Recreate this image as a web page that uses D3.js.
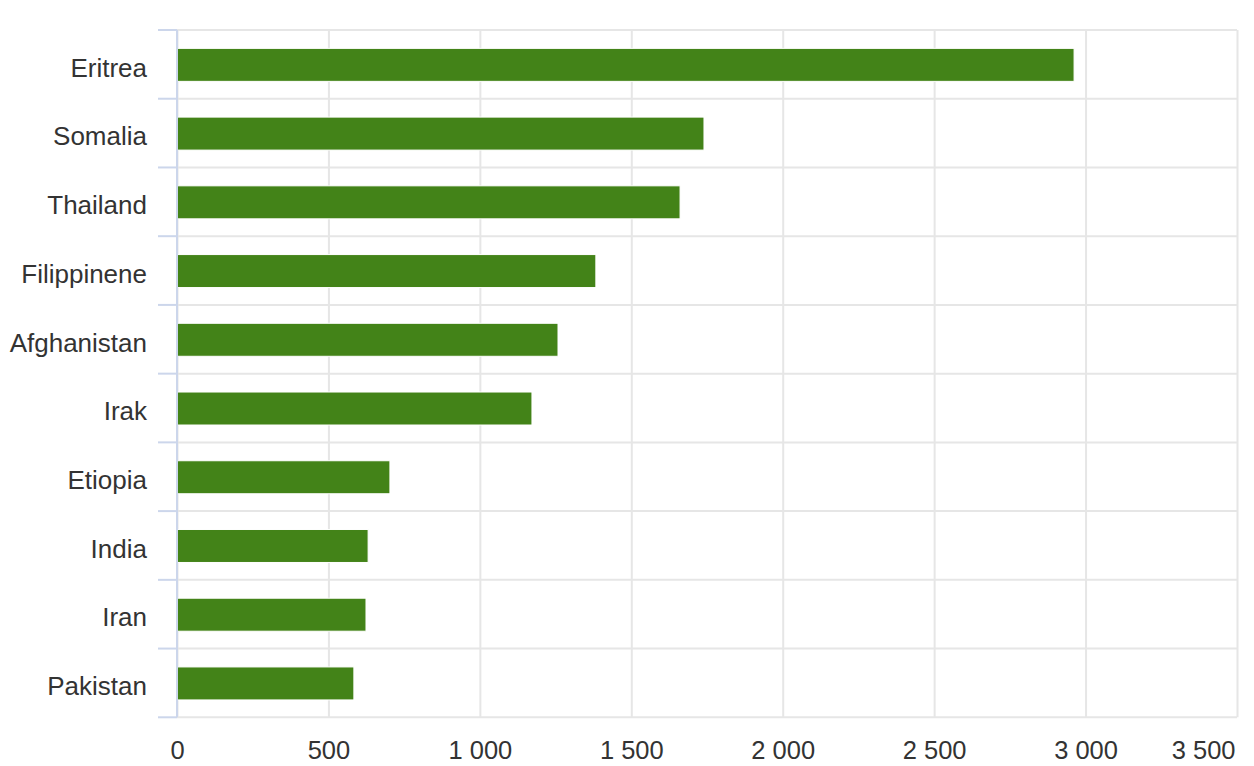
<!DOCTYPE html>
<html>
<head>
<meta charset="utf-8">
<script src="https://cdn.jsdelivr.net/npm/d3@7"></script>
<style>
  html, body { margin: 0; padding: 0; background: #fff; }
  svg { display: block; font-family: "Liberation Sans", Arial, Helvetica, sans-serif; }
</style>
</head>
<body>
<div id="chart"></div>
<script>
// data
const countries = ["Eritrea", "Somalia", "Thailand", "Filippinene", "Afghanistan",
                   "Irak", "Etiopia", "India", "Iran", "Pakistan"];
const persons = [2962, 1740, 1661, 1383, 1258, 1172, 703, 631, 624, 584];
const xTicks = [0, 500, 1000, 1500, 2000, 2500, 3000, 3500];

const width = 1254, height = 766;
const margin = { top: 30, right: 17, bottom: 48.7, left: 177 };
const plotW = width - margin.left - margin.right;
const plotH = height - margin.top - margin.bottom;

const nb = d3.formatLocale({ decimal: ",", thousands: " ", grouping: [3], currency: ["", ""] });
const fmt = nb.format(",");

const svg = d3.select("#chart")
  .append("svg")
  .attr("width", width)
  .attr("height", height);

const g = svg.append("g")
  .attr("transform", `translate(${margin.left},${margin.top})`);

const x = d3.scaleLinear().domain([0, 3500]).range([0, plotW]);
const y = d3.scaleBand().domain(countries).range([0, plotH]).padding(0);

// vertical grid + x labels
const gx = g.append("g")
  .attr("transform", `translate(0,${plotH})`)
  .call(d3.axisBottom(x).tickValues(xTicks).tickSize(-plotH).tickFormat(fmt));
gx.select(".domain").remove();
gx.selectAll("line").attr("stroke", "#e6e6e6").attr("stroke-width", 2);
gx.selectAll("text")
  .attr("y", 42).attr("dy", 0)
  .attr("fill", "#333333")
  .style("font-size", "25.5px");
// last label is pushed inside the chart, like the original
gx.selectAll("text")
  .filter(d => d === xTicks[xTicks.length - 1])
  .attr("text-anchor", "end")
  .attr("x", -2);

// horizontal grid at band edges, with the tick stubs left of the axis
const edges = countries.map(c => y(c)).concat([y.range()[1]]);
const gy = g.append("g");
gy.selectAll("line.grid")
  .data(edges)
  .enter()
  .append("line")
  .attr("class", "grid")
  .attr("x1", 0).attr("x2", plotW)
  .attr("y1", d => d).attr("y2", d => d)
  .attr("stroke", "#e6e6e6").attr("stroke-width", 2);
gy.selectAll("line.tick")
  .data(edges)
  .enter()
  .append("line")
  .attr("class", "tick")
  .attr("x1", -19).attr("x2", 0)
  .attr("y1", d => d).attr("y2", d => d)
  .attr("stroke", "#ccd6eb").attr("stroke-width", 2);

// bars
const barH = y.bandwidth() * 0.48;
g.append("g")
  .selectAll("rect")
  .data(countries)
  .enter()
  .append("rect")
  .attr("x", x(0))
  .attr("y", (d) => y(d) + (y.bandwidth() - barH) / 2 + 0.5)
  .attr("width", (d, i) => x(persons[i]) - x(0))
  .attr("height", barH)
  .attr("fill", "#438318")
  .attr("stroke", "#ffffff")
  .attr("stroke-width", 1);

// y axis line and labels
const yAx = g.append("g")
  .call(d3.axisLeft(y).tickSize(0).tickPadding(30));
yAx.select(".domain")
  .attr("stroke", "#ccd6eb").attr("stroke-width", 2)
  .attr("d", `M0,0V${plotH}`);
yAx.selectAll("text")
  .attr("dy", "0.47em")
  .attr("fill", "#333333")
  .style("font-size", "26px");
</script>
</body>
</html>
